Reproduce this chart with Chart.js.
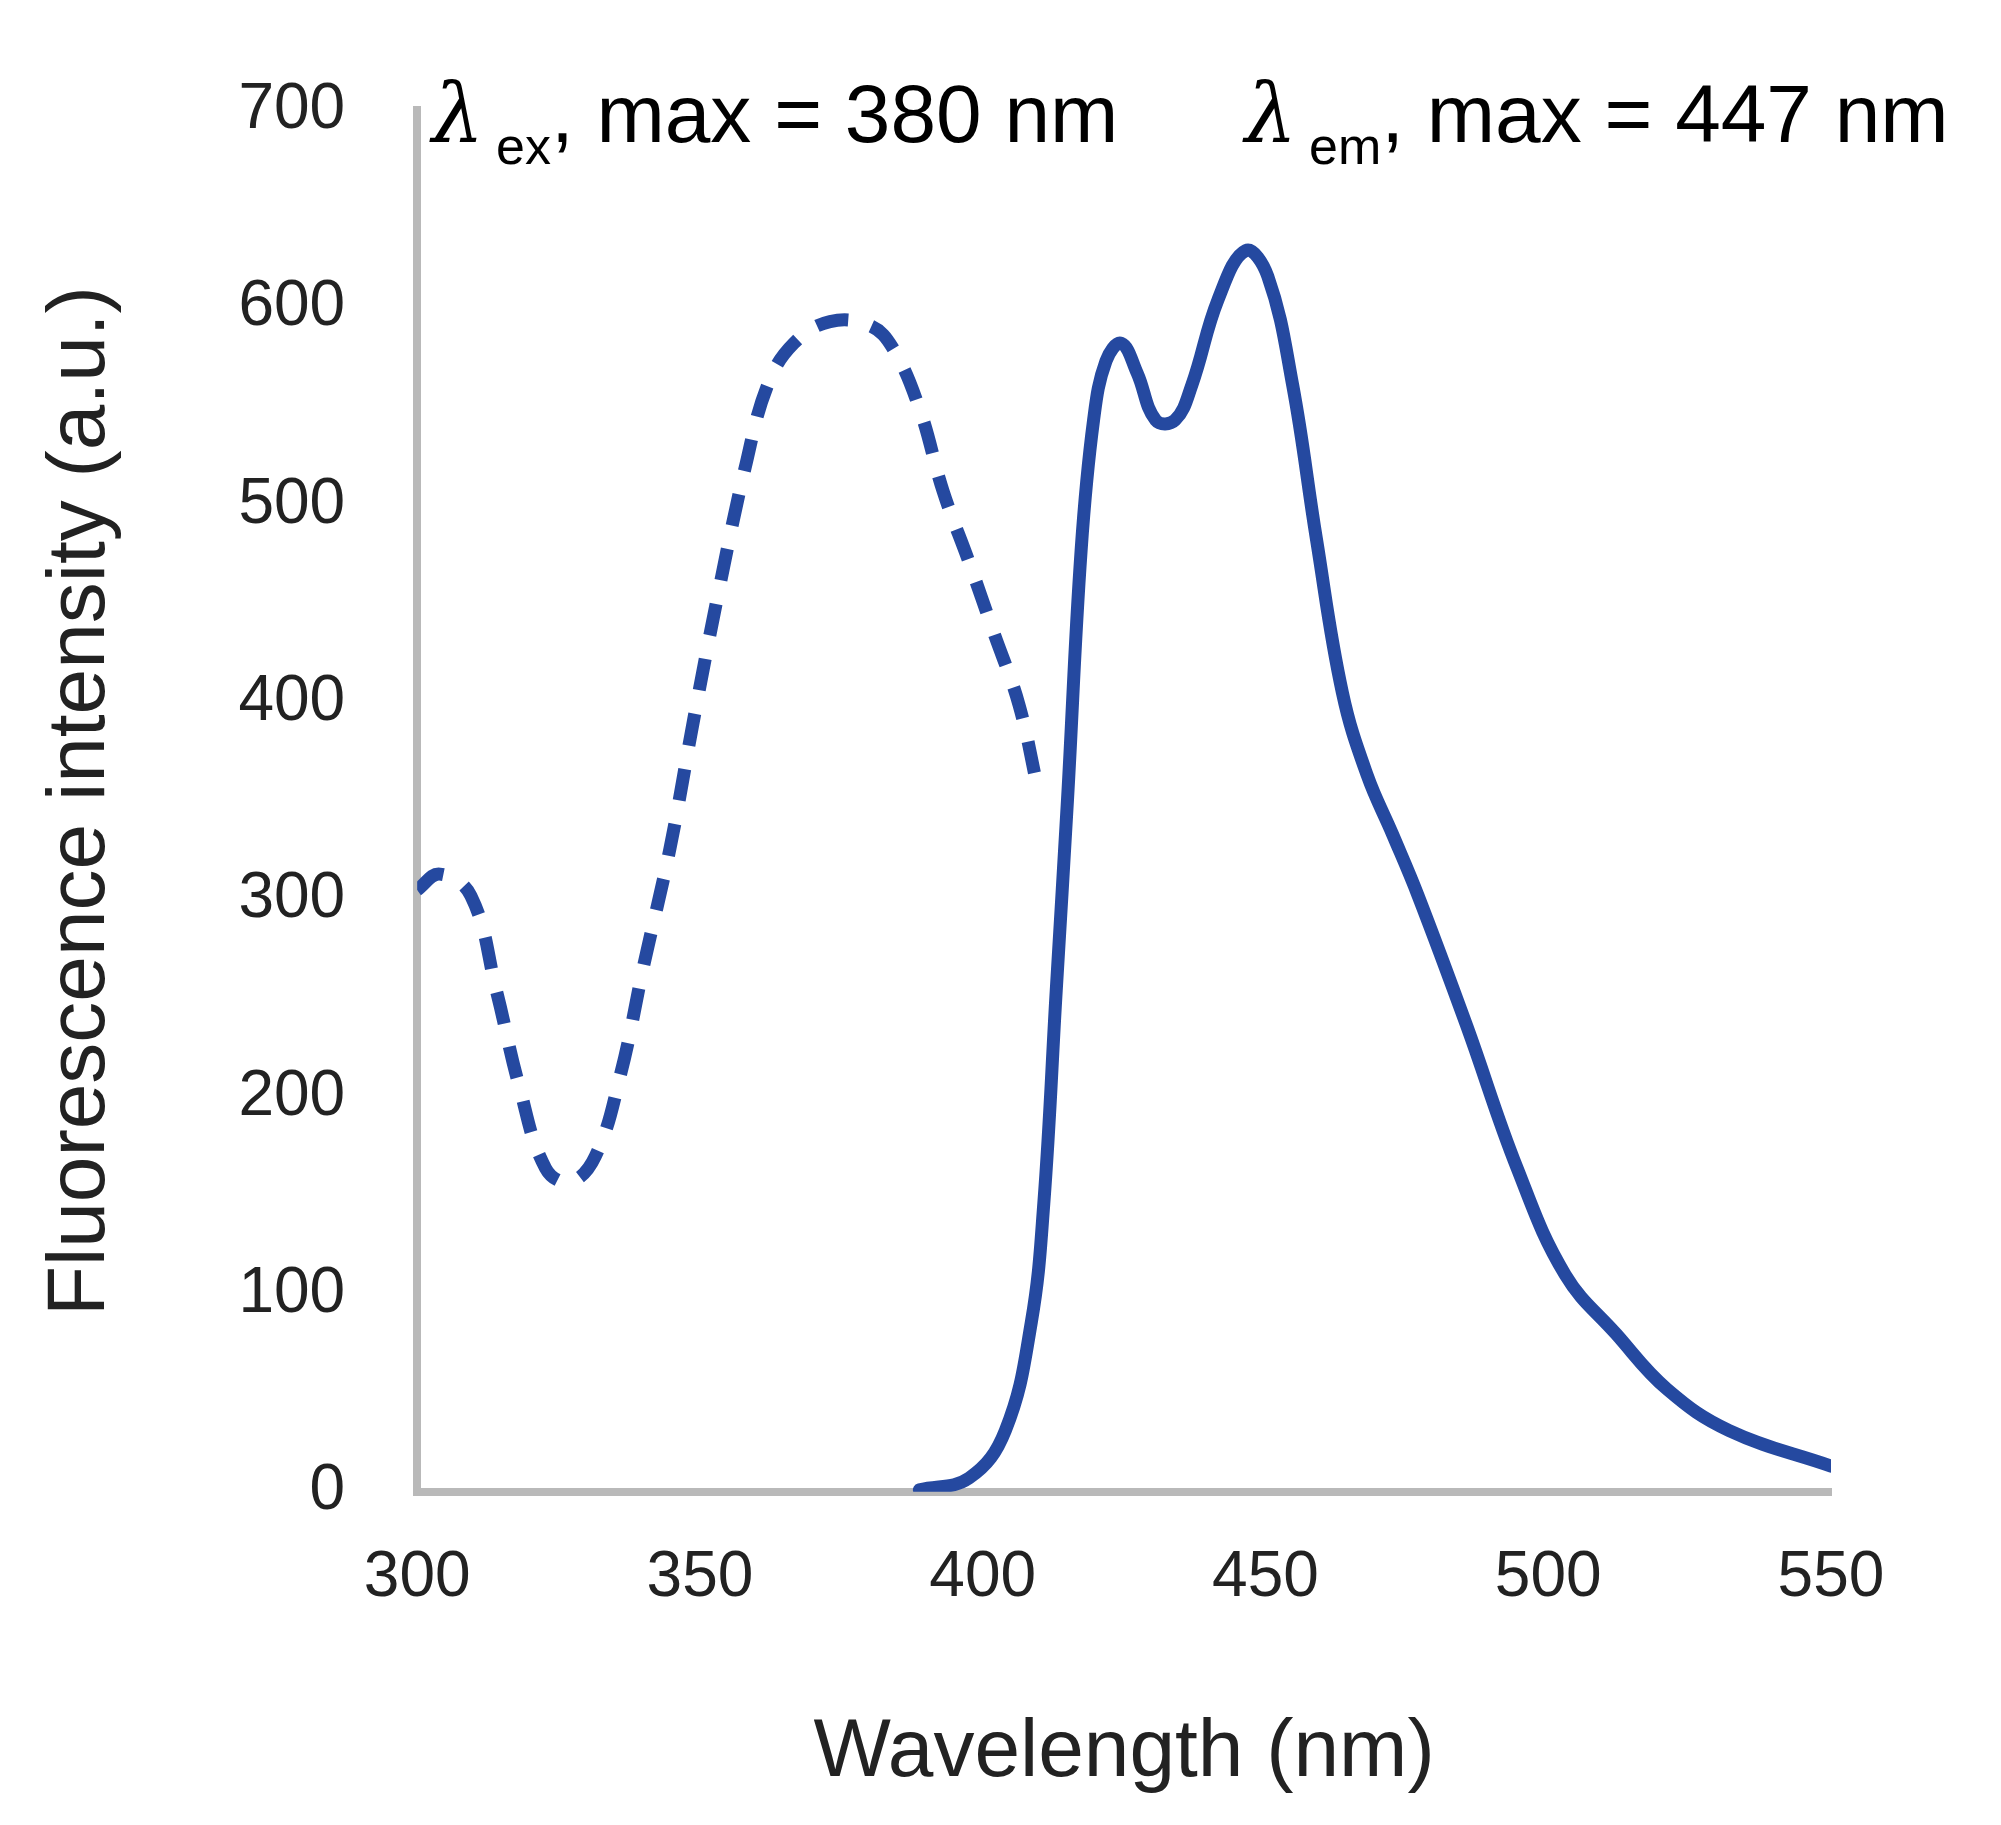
<!DOCTYPE html>
<html><head><meta charset="utf-8">
<script src="https://cdn.jsdelivr.net/npm/chart.js@4/dist/chart.umd.min.js"></script>
<style>html,body{margin:0;background:#fff}#wrap{width:2001px;height:1825px}</style>
</head><body><div id="wrap"><canvas id="c"></canvas></div>
<script>
// excitation spectrum (dashed)
const exWl = [300, 304, 309.5, 314, 318, 322.7, 327, 331.5, 336, 340, 344.7, 349, 353.5, 358, 362, 366.6, 373, 380, 384, 388.8, 393, 397.6, 402, 406.4, 409.7];
const exInt = [305, 313, 302, 254, 206, 164, 157, 170, 212, 266, 326, 393, 459, 519, 561, 582, 593, 591, 580, 549, 507, 471, 435, 399, 357];
// emission spectrum (solid)
const emWl = [388.8, 397.6, 404, 408.6, 410.8, 413, 415, 417.4, 419.6, 421.8, 424.5, 427.3, 430.6, 434, 437, 441.6, 446.5, 450.4, 454.8, 459, 463.6, 468, 472.5, 477, 485.6, 494.5, 503, 512, 521, 532, 550];
const emInt = [1, 7, 31, 86, 146, 254, 351, 477, 543, 573, 582, 567, 543, 543, 561, 604, 629, 616, 561, 483, 405, 363, 333, 302, 236, 164, 110, 80, 52, 31, 13];
const xTicks = [300, 350, 400, 450, 500, 550];
const yTicks = [0, 100, 200, 300, 400, 500, 600, 700];

const blue = '#2549a0';
const pts = (xs, ys) => xs.map((x, i) => ({x, y: ys[i]}));

const labels = {
  id: 'labels',
  afterDraw(chart) {
    const c = chart.ctx;
    c.save();
    c.fillStyle = '#000';
    c.textBaseline = 'alphabetic';
    const put = (x, sub, rest) => {
      c.font = 'italic 82px "DejaVu Serif"';
      c.fillText('λ', x, 142);
      let w = c.measureText('λ').width;
      c.font = '52px Arial, "Liberation Sans"';
      c.fillText(sub, x + w + 12, 164);
      let w2 = c.measureText(sub).width;
      c.font = '82px Arial, "Liberation Sans"';
      c.fillText(rest, x + w + 12 + w2, 142);
    };
    put(432, 'ex', ', max = 380 nm');
    put(1245, 'em', ', max = 447 nm');
    c.restore();
  }
};

new Chart(document.getElementById('c'), {
  type: 'line',
  data: {
    datasets: [
      {data: pts(exWl, exInt), borderColor: blue, borderWidth: 13, borderDash: [32, 24], tension: 0.4, pointRadius: 0, fill: false},
      {data: pts(emWl, emInt), borderColor: blue, borderWidth: 13, tension: 0.4, pointRadius: 0, fill: false, borderCapStyle: 'round'}
    ]
  },
  options: {
    responsive: true,
    maintainAspectRatio: false,
    animation: false,
    layout: {padding: {top: 50, right: 170, bottom: 22, left: 28}},
    plugins: {legend: {display: false}, tooltip: {enabled: false}},
    scales: {
      x: {
        type: 'linear', min: 300, max: 550,
        afterBuildTicks: s => { s.ticks = xTicks.map(v => ({value: v})); },
        grid: {display: false, drawTicks: false},
        border: {color: '#b9b9b9', width: 8},
        ticks: {color: '#222', font: {size: 64, family: 'Arial, "Liberation Sans"'}, padding: 48},
        title: {display: true, text: 'Wavelength (nm)', color: '#222', font: {size: 82, family: 'Arial, "Liberation Sans"'}, padding: {top: 40, bottom: 0}}
      },
      y: {
        min: 0, max: 700,
        afterBuildTicks: s => { s.ticks = yTicks.map(v => ({value: v})); },
        grid: {display: false, drawTicks: false},
        border: {color: '#b9b9b9', width: 8},
        ticks: {color: '#222', font: {size: 64, family: 'Arial, "Liberation Sans"'}, padding: 72},
        title: {display: true, text: 'Fluorescence intensity (a.u.)', color: '#222', font: {size: 82, family: 'Arial, "Liberation Sans"'}, padding: {bottom: 36}}
      }
    }
  },
  plugins: [labels]
});
</script></body></html>
